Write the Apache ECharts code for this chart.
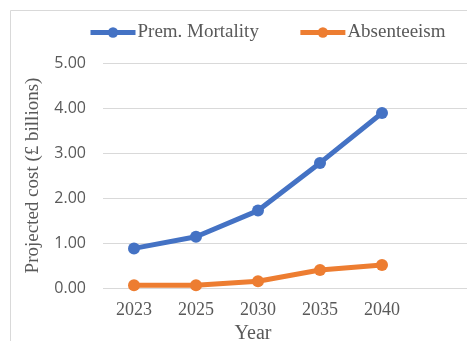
<!DOCTYPE html>
<html>
<head>
<meta charset="utf-8">
<script src="https://cdn.jsdelivr.net/npm/echarts@6/dist/echarts.min.js"></script>
<style>
  html, body { margin: 0; padding: 0; background: #ffffff; }
  #chart { width: 467px; height: 341px; }
</style>
</head>
<body>
<div id="chart"></div>
<script>
// Projected cost by year, in £ billions
const years = ['2023', '2025', '2030', '2035', '2040', ''];
const premMortality = [0.88, 1.14, 1.72, 2.78, 3.89];
const absenteeism = [0.06, 0.06, 0.15, 0.40, 0.51];
const yTicks = [0, 1, 2, 3, 4, 5];

const serif = '"Liberation Serif", "Times New Roman", serif';
const sans = '"Open Sans", "Liberation Sans", sans-serif';
const grey = '#595959';

const chart = echarts.init(document.getElementById('chart'), null, { renderer: 'canvas' });

chart.setOption({
  animation: false,
  backgroundColor: '#ffffff',
  graphic: [{
    type: 'rect',
    shape: { x: 10.5, y: 10.5, width: 520, height: 400 },
    style: { fill: 'none', stroke: '#d9d9d9', lineWidth: 1 },
    silent: true,
    z: -10
  }],
  legend: {
    left: 83,
    top: 18,
    itemWidth: 45,
    itemHeight: 13,
    itemGap: 39,
    lineStyle: { width: 5 },
    textStyle: { fontFamily: serif, fontSize: 19, color: grey, padding: [0, 0, 0, -3] },
    data: ['Prem. Mortality', 'Absenteeism']
  },
  grid: {
    left: 103,
    top: 63,
    width: 372,
    height: 225,
    containLabel: false,
    outerBoundsMode: 'none'
  },
  xAxis: {
    type: 'category',
    data: years,
    boundaryGap: true,
    axisLine: { show: false },
    axisTick: { show: false },
    axisLabel: { fontFamily: serif, fontSize: 18, color: grey, margin: 13 },
    name: 'Year',
    nameLocation: 'middle',
    nameGap: 33,
    nameTextStyle: { fontFamily: serif, fontSize: 20, color: grey, padding: [0, 72, 0, 0] }
  },
  yAxis: {
    type: 'value',
    min: yTicks[0],
    max: yTicks[yTicks.length - 1],
    interval: 1,
    axisLine: { show: false },
    axisTick: { show: false },
    splitLine: { lineStyle: { color: '#d9d9d9', width: 1 } },
    axisLabel: {
      fontFamily: sans,
      fontSize: 16,
      color: grey,
      margin: 17,
      formatter: v => v.toFixed(2)
    },
    name: 'Projected cost (£ billions)',
    nameLocation: 'middle',
    nameGap: 60,
    nameTextStyle: { fontFamily: serif, fontSize: 19, color: grey }
  },
  series: [
    {
      name: 'Prem. Mortality',
      type: 'line',
      data: premMortality,
      symbol: 'circle',
      symbolSize: 12,
      color: '#4472C4',
      lineStyle: { width: 5, color: '#4472C4' },
      itemStyle: { color: '#4472C4' }
    },
    {
      name: 'Absenteeism',
      type: 'line',
      data: absenteeism,
      symbol: 'circle',
      symbolSize: 12,
      color: '#ED7D31',
      lineStyle: { width: 5, color: '#ED7D31' },
      itemStyle: { color: '#ED7D31' }
    }
  ]
});
</script>
</body>
</html>
